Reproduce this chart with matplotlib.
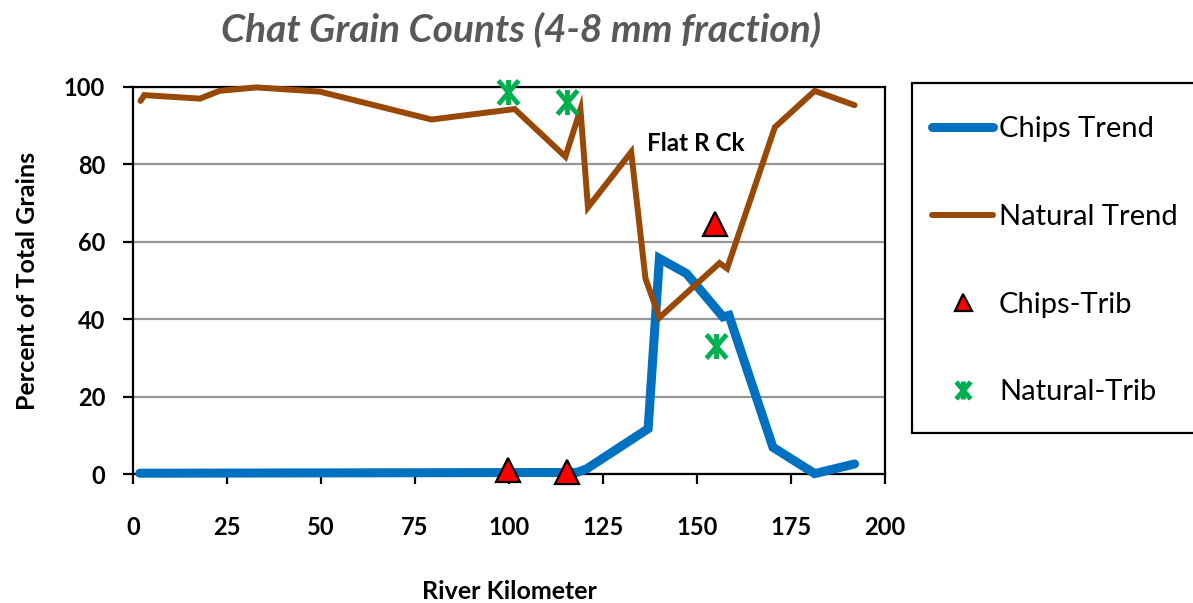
import matplotlib
matplotlib.use("Agg")
import matplotlib.pyplot as plt
from matplotlib.path import Path
from matplotlib.patches import Rectangle

plt.rcParams['font.family'] = ['Lato', 'DejaVu Sans']

# Data
chips_x = [1.8, 118, 120.6, 137, 140, 147.2, 156.9, 158.5, 170.2, 181.3, 191.9]
chips_y = [0.2, 0.4, 1.3, 11.7, 55.7, 51.8, 40.6, 41.0, 6.9, 0.1, 2.6]

natural_x = [2.0, 3.0, 17.8, 23.0, 32.8, 49.7, 79.4, 101.5, 115.0, 119.0, 121.0,
             132.5, 136.3, 140.0, 156.0, 158.0, 170.7, 181.3, 191.9]
natural_y = [96.4, 97.9, 97.0, 99.0, 99.9, 98.8, 91.6, 94.3, 82.0, 94.2, 68.9,
             83.2, 50.5, 40.4, 54.5, 53.1, 89.6, 99.0, 95.3]

chips_trib_x = [99.8, 115.4, 154.7]
chips_trib_y = [1.0, 0.5, 64.7]

natural_trib_x = [99.8, 115.4, 155.0]
natural_trib_y = [98.8, 96.2, 33.0]

x_ticks = [0, 25, 50, 75, 100, 125, 150, 175, 200]
y_ticks = [0, 20, 40, 60, 80, 100]

W, H = 1193, 603
fig = plt.figure(figsize=(W / 100, H / 100), dpi=100)
ax = fig.add_axes([133 / W, 1 - 474 / H, (885 - 133) / W, (474 - 87) / H])

ax.set_xlim(0, 200)
ax.set_ylim(0, 100)
ax.set_xticks(x_ticks)
ax.set_yticks(y_ticks)
ax.yaxis.grid(True, color='#969696', lw=1.6)
ax.set_axisbelow(True)
for s in ax.spines.values():
    s.set_color('black')
    s.set_linewidth(1.6)
ax.tick_params(axis='both', direction='out', length=7, width=1.6, labelsize=17)
ax.tick_params(axis='x', pad=23)
ax.tick_params(axis='y', pad=13)
for lab in ax.get_xticklabels() + ax.get_yticklabels():
    lab.set_fontweight('bold')

star = Path([(-0.85, -1), (0.85, 1), (-0.85, 1), (0.85, -1), (0, -1.05), (0, 1.05)],
            [Path.MOVETO, Path.LINETO, Path.MOVETO, Path.LINETO, Path.MOVETO, Path.LINETO])

l1, = ax.plot(chips_x, chips_y, color='#0070C0', lw=6.5, solid_capstyle='round',
              solid_joinstyle='miter', label='Chips Trend', clip_on=False, zorder=3)
l2, = ax.plot(natural_x, natural_y, color='#984807', lw=4.3, solid_capstyle='round',
              solid_joinstyle='miter', label='Natural Trend', clip_on=False, zorder=3)
l3, = ax.plot(chips_trib_x, chips_trib_y, ls='none', marker='^', markersize=17,
              markerfacecolor='#FF0000', markeredgecolor='black', markeredgewidth=1.6,
              label='Chips-Trib', clip_on=False, zorder=4)
l4, = ax.plot(natural_trib_x, natural_trib_y, ls='none', marker=star, markersize=18,
              markeredgecolor='#00B050', markerfacecolor='none', markeredgewidth=3.5,
              label='Natural-Trib', clip_on=False, zorder=4)

ax.text(149.7, 85.5, 'Flat R Ck', fontsize=17.5, fontweight='bold', ha='center', va='center')

ax.set_xlabel('River Kilometer', fontsize=18, fontweight='bold', labelpad=30)
ax.set_ylabel('Percent of Total Grains', fontsize=18, fontweight='bold', labelpad=18)

fig.text(521 / W, 1 - 30 / H, 'Chat Grain Counts (4-8 mm fraction)', fontsize=28,
         fontweight='bold', fontstyle='italic', color='#595959', ha='center', va='center')

# legend frame
fig.patches.append(Rectangle((912 / W, 1 - 433 / H), (1200 - 912) / W, (433 - 83) / H,
                             transform=fig.transFigure, facecolor='white',
                             edgecolor='black', lw=1.6, zorder=1))

leg = fig.legend(handles=[l1, l2, l3, l4], loc='upper left',
                 bbox_to_anchor=(932 / W, 1 - 116 / H),
                 fontsize=21, frameon=False,
                 handlelength=2.1, handletextpad=0.2, labelspacing=2.12,
                 borderpad=0, borderaxespad=0, markerscale=0.72)
leg.set_zorder(5)

fig.savefig('out.png', dpi=100)
